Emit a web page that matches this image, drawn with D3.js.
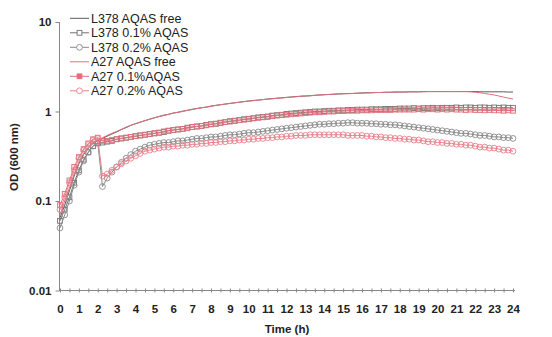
<!DOCTYPE html>
<html>
<head>
<meta charset="utf-8">
<script src="https://cdn.jsdelivr.net/npm/d3@7"></script>
<style>
  body { margin: 0; background: #fff; }
  text { font-family: "Liberation Sans", Arial, sans-serif; }
</style>
</head>
<body>
<div id="chart"></div>
<script>
// Sampling times (h), every 15 min
var hours = [0,0.25,0.5,0.75,1,1.25,1.5,1.75,2,2.25,2.5,2.75,3,3.25,3.5,3.75,4,
  4.25,4.5,4.75,5,5.25,5.5,5.75,6,6.25,6.5,6.75,7,7.25,7.5,7.75,8,
  8.25,8.5,8.75,9,9.25,9.5,9.75,10,10.25,10.5,10.75,11,11.25,11.5,11.75,12,
  12.25,12.5,12.75,13,13.25,13.5,13.75,14,14.25,14.5,14.75,15,15.25,15.5,15.75,16,
  16.25,16.5,16.75,17,17.25,17.5,17.75,18,18.25,18.5,18.75,19,19.25,19.5,19.75,20,
  20.25,20.5,20.75,21,21.25,21.5,21.75,22,22.25,22.5,22.75,23,23.25,23.5,23.75,24];

var l378Free = [0.065,0.09,0.13,0.19,0.26,0.33,0.39,0.44,0.47,
  0.50,0.53,0.56,0.59,0.63,0.66,0.70,0.73,
  0.76,0.79,0.82,0.85,0.88,0.91,0.93,0.96,
  0.98,1.01,1.03,1.06,1.08,1.10,1.12,1.15,
  1.17,1.19,1.21,1.23,1.25,1.27,1.29,1.31,
  1.33,1.34,1.36,1.38,1.39,1.41,1.42,1.44,
  1.45,1.47,1.48,1.49,1.50,1.52,1.53,1.54,
  1.55,1.56,1.57,1.58,1.59,1.59,1.60,1.61,
  1.62,1.62,1.63,1.63,1.64,1.64,1.65,1.65,
  1.65,1.66,1.66,1.66,1.67,1.67,1.67,1.67,
  1.67,1.67,1.67,1.67,1.67,1.67,1.67,1.67,
  1.66,1.66,1.66,1.66,1.66,1.66,1.65,1.65];

var l378Low = [0.06,0.08,0.11,0.16,0.22,0.29,0.35,0.41,0.44,
  0.45,0.46,0.47,0.49,0.50,0.51,0.52,0.53,
  0.54,0.55,0.56,0.57,0.58,0.59,0.61,0.62,
  0.63,0.64,0.66,0.67,0.68,0.69,0.71,0.72,
  0.73,0.75,0.76,0.78,0.79,0.80,0.82,0.83,
  0.84,0.86,0.87,0.88,0.90,0.91,0.92,0.94,
  0.95,0.96,0.97,0.98,0.99,1.00,1.00,1.01,
  1.02,1.02,1.03,1.03,1.04,1.04,1.05,1.05,
  1.05,1.06,1.06,1.06,1.07,1.07,1.07,1.08,
  1.08,1.08,1.09,1.08,1.09,1.09,1.10,1.09,
  1.10,1.10,1.10,1.11,1.10,1.11,1.11,1.10,
  1.11,1.11,1.10,1.11,1.10,1.11,1.10,1.10];

var l378High = [0.05,0.07,0.10,0.15,0.21,0.28,0.35,0.41,0.45,
  0.145,0.18,0.21,0.24,0.27,0.30,0.33,0.36,
  0.38,0.40,0.42,0.43,0.44,0.45,0.45,0.46,
  0.47,0.47,0.48,0.49,0.50,0.50,0.51,0.52,
  0.52,0.53,0.54,0.55,0.55,0.56,0.57,0.58,
  0.58,0.59,0.60,0.61,0.62,0.63,0.64,0.65,
  0.66,0.67,0.68,0.69,0.70,0.71,0.72,0.72,
  0.73,0.73,0.74,0.74,0.75,0.75,0.74,0.74,
  0.74,0.73,0.73,0.72,0.72,0.71,0.71,0.70,
  0.69,0.68,0.67,0.66,0.65,0.64,0.63,0.62,
  0.61,0.60,0.59,0.58,0.57,0.57,0.56,0.55,
  0.54,0.54,0.53,0.52,0.52,0.51,0.51,0.50];

var a27Free = [0.07,0.10,0.14,0.20,0.27,0.34,0.40,0.45,0.48,
  0.51,0.54,0.57,0.60,0.63,0.67,0.70,0.73,
  0.76,0.79,0.82,0.85,0.88,0.90,0.93,0.96,
  0.98,1.00,1.03,1.05,1.08,1.10,1.12,1.14,
  1.17,1.19,1.21,1.23,1.25,1.27,1.29,1.31,
  1.32,1.34,1.36,1.37,1.39,1.40,1.42,1.43,
  1.45,1.46,1.48,1.49,1.50,1.51,1.53,1.54,
  1.55,1.56,1.57,1.58,1.58,1.59,1.60,1.61,
  1.61,1.62,1.63,1.63,1.64,1.64,1.65,1.65,
  1.65,1.66,1.66,1.66,1.66,1.67,1.67,1.67,
  1.67,1.67,1.67,1.67,1.67,1.67,1.66,1.64,
  1.62,1.59,1.56,1.53,1.49,1.45,1.41,1.38];

var a27Low = [0.09,0.12,0.17,0.24,0.31,0.38,0.44,0.49,0.51,
  0.47,0.47,0.48,0.49,0.50,0.51,0.52,0.53,
  0.54,0.55,0.56,0.57,0.58,0.60,0.61,0.62,
  0.63,0.64,0.65,0.67,0.68,0.69,0.70,0.72,
  0.73,0.74,0.76,0.77,0.78,0.80,0.81,0.82,
  0.84,0.85,0.86,0.87,0.89,0.90,0.91,0.92,
  0.93,0.94,0.95,0.96,0.97,0.98,0.98,0.99,
  1.00,1.00,1.01,1.01,1.02,1.02,1.02,1.03,
  1.03,1.03,1.04,1.04,1.04,1.04,1.05,1.05,
  1.05,1.05,1.05,1.06,1.05,1.06,1.06,1.05,
  1.06,1.05,1.06,1.05,1.05,1.04,1.05,1.04,
  1.04,1.03,1.04,1.03,1.03,1.02,1.03,1.02];

var a27High = [0.08,0.11,0.16,0.22,0.30,0.37,0.43,0.48,0.50,
  0.19,0.20,0.22,0.24,0.26,0.28,0.30,0.32,
  0.34,0.36,0.37,0.38,0.39,0.40,0.40,0.41,
  0.41,0.42,0.42,0.43,0.43,0.44,0.44,0.45,
  0.45,0.46,0.46,0.47,0.47,0.48,0.48,0.49,
  0.49,0.50,0.50,0.51,0.51,0.52,0.52,0.53,
  0.53,0.54,0.54,0.54,0.55,0.55,0.55,0.55,
  0.55,0.55,0.55,0.55,0.54,0.54,0.54,0.54,
  0.53,0.53,0.52,0.52,0.51,0.51,0.50,0.50,
  0.49,0.49,0.48,0.48,0.47,0.46,0.46,0.45,
  0.45,0.44,0.44,0.43,0.43,0.42,0.42,0.41,
  0.40,0.40,0.39,0.39,0.38,0.37,0.37,0.36];

var seriesNames = ["L378 AQAS free", "L378 0.1% AQAS", "L378 0.2% AQAS",
  "A27 AQAS free", "A27 0.1%AQAS", "A27 0.2% AQAS"];
var yTickValues = [0.01, 0.1, 1, 10];
var yTickLabels = ["0.01", "0.1", "1", "10"];
var xTickLabels = d3.range(0, 25);

var grey = "#727272", red = "#e0707c";
var series = [
  { name: seriesNames[0], values: l378Free, color: "#5a5a5a", marker: null },
  { name: seriesNames[1], values: l378Low, color: grey, marker: "square", fill: "none" },
  { name: seriesNames[2], values: l378High, color: "#8a8a8a", marker: "circle", fill: "none" },
  { name: seriesNames[3], values: a27Free, color: red, marker: null },
  { name: seriesNames[4], values: a27Low, color: red, marker: "square", fill: "rgba(224,112,124,0.15)" },
  { name: seriesNames[5], values: a27High, color: "#e8808b", marker: "circle", fill: "none" }
];

var width = 552, height = 337;
var svg = d3.select("#chart").append("svg")
  .attr("width", width)
  .attr("height", height);

var xScale = d3.scaleLinear().domain([0, 24]).range([60, 513]);
var yScale = d3.scaleLog().domain([0.01, 10]).range([290.5, 22]);

// Y axis
var yAxis = d3.axisLeft(yScale)
  .tickValues(yTickValues)
  .tickFormat(function(d, i) { return yTickLabels[i]; })
  .tickSize(4)
  .tickPadding(4);
var gy = svg.append("g")
  .attr("transform", "translate(59.5,0)")
  .call(yAxis);
gy.select(".domain").attr("stroke", "#888").attr("d", "M0," + yScale(10) + "V" + yScale(0.01));
gy.selectAll(".tick line").attr("stroke", "#888");
gy.selectAll(".tick text")
  .attr("fill", "#222")
  .style("font-size", "11.5px")
  .style("font-weight", "bold")
  .style("font-family", "'Liberation Sans', Arial, sans-serif");

// X axis: half-hour ticks crossing the axis line
var gx = svg.append("g")
  .attr("transform", "translate(0,290.5)")
  .call(d3.axisBottom(xScale).tickValues(d3.range(0, 24.5, 0.5)).tickSize(3).tickFormat(""));
gx.select(".domain").attr("stroke", "#888").attr("d", "M59,0H515");
gx.selectAll(".tick line").attr("stroke", "#888").attr("y1", -2).attr("y2", 2);

var gxl = svg.append("g")
  .attr("transform", "translate(0,290.5)")
  .call(d3.axisBottom(xScale).tickValues(xTickLabels).tickSize(0).tickPadding(14));
gxl.select(".domain").remove();
gxl.selectAll(".tick text")
  .attr("fill", "#222")
  .style("font-size", "11.5px")
  .style("font-weight", "bold")
  .style("font-family", "'Liberation Sans', Arial, sans-serif");

// Axis titles
svg.append("text")
  .attr("x", 287)
  .attr("y", 333)
  .attr("text-anchor", "middle")
  .attr("fill", "#222")
  .style("font-size", "11.5px")
  .style("font-weight", "bold")
  .text("Time (h)");

svg.append("text")
  .attr("transform", "translate(18,157) rotate(-90)")
  .attr("text-anchor", "middle")
  .attr("fill", "#222")
  .style("font-size", "11.5px")
  .style("font-weight", "bold")
  .text("OD (600 nm)");

// Series
var line = d3.line()
  .x(function(d) { return xScale(d[0]); })
  .y(function(d) { return yScale(d[1]); });

function drawMarker(g, kind, cx, cy, color, fill) {
  if (kind === "circle") {
    g.append("circle").attr("cx", cx).attr("cy", cy).attr("r", 2.9)
      .attr("fill", fill).attr("stroke", color).attr("stroke-width", 0.9);
  } else if (kind === "square") {
    g.append("rect").attr("x", cx - 2.4).attr("y", cy - 2.4)
      .attr("width", 4.8).attr("height", 4.8)
      .attr("fill", fill).attr("stroke", color).attr("stroke-width", 0.9);
  }
}

series.forEach(function(s) {
  var pts = hours.map(function(h, i) { return [h, s.values[i]]; });
  var g = svg.append("g");
  g.append("path")
    .datum(pts)
    .attr("d", line)
    .attr("fill", "none")
    .attr("stroke", s.color)
    .attr("stroke-width", 1);
  if (s.marker) {
    pts.forEach(function(p) {
      drawMarker(g, s.marker, xScale(p[0]), yScale(p[1]), s.color, s.fill);
    });
  }
});

// Legend
var legend = svg.append("g");
series.forEach(function(s, i) {
  var cy = 18.3 + i * 14.5;
  legend.append("line")
    .attr("x1", 70).attr("x2", 89)
    .attr("y1", cy).attr("y2", cy)
    .attr("stroke", s.color).attr("stroke-width", 1);
  if (s.marker) drawMarker(legend, s.marker, 79.5, cy, s.color, s.fill === "none" ? "#fff" : s.color);
  legend.append("text")
    .attr("x", 91)
    .attr("y", cy + 4.5)
    .attr("fill", "#222")
    .style("font-size", "12.5px")
    .text(s.name);
});
</script>
</body>
</html>
